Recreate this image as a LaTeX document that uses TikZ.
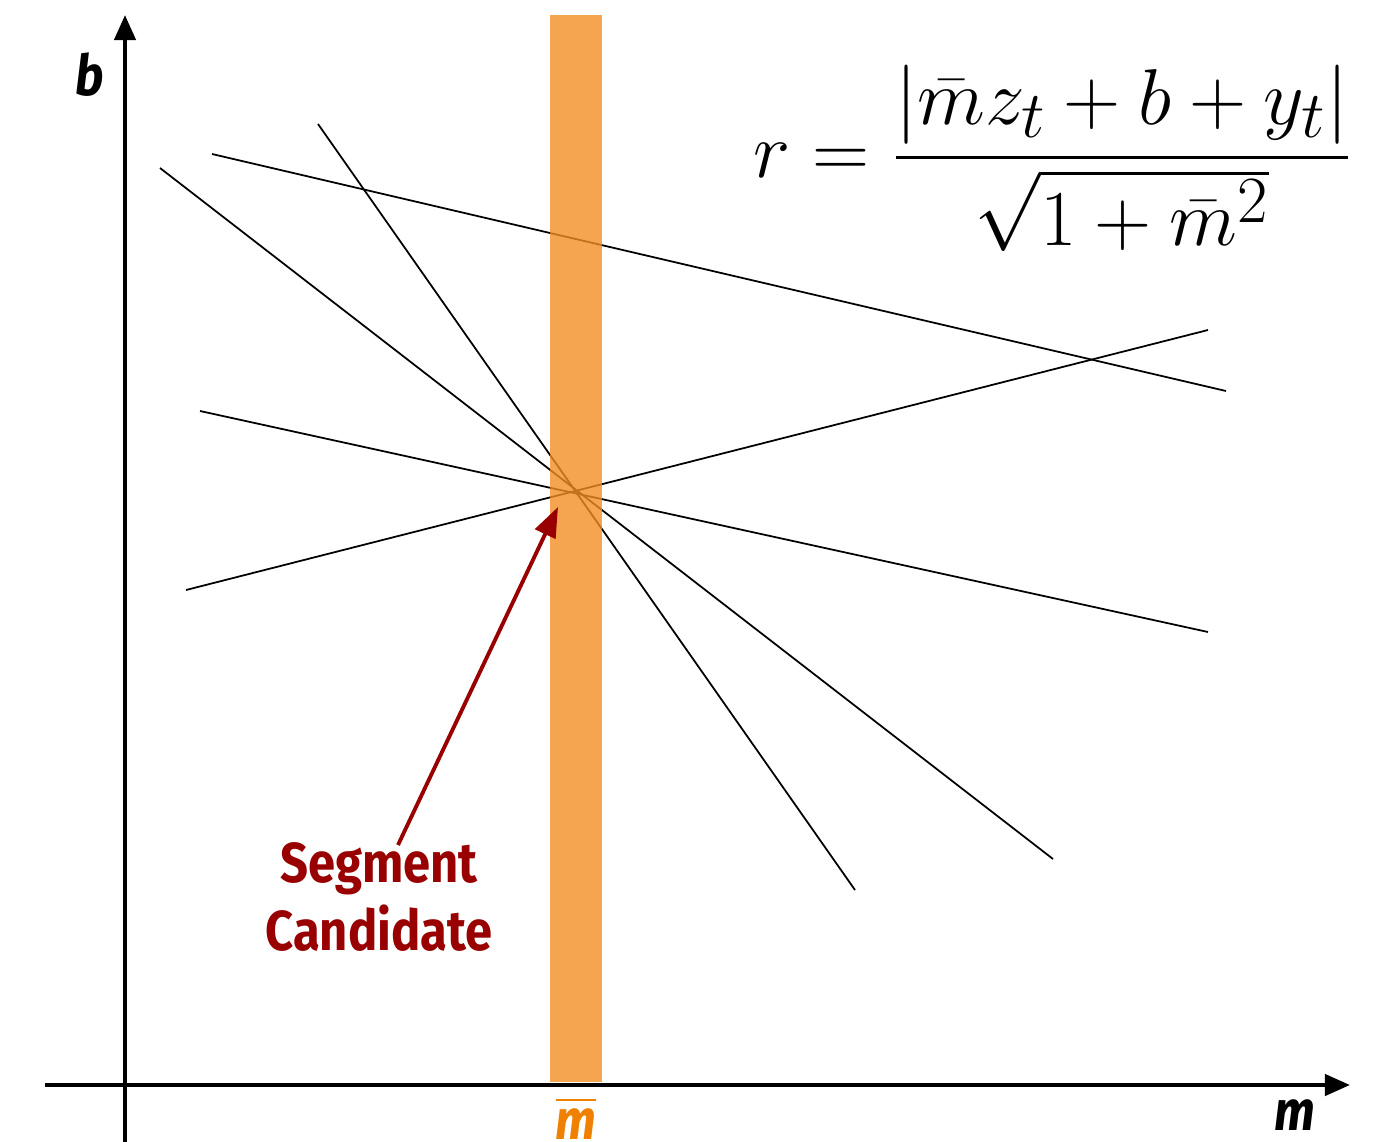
\documentclass[tikz,border=0pt]{standalone}
\usepackage{fontspec}
\usepackage{amsmath}
\newfontfamily\labelfont[FakeStretch=0.87]{Fira Sans}
\usetikzlibrary{arrows.meta, positioning}
\definecolor{bandorange}{RGB}{242,142,36}
\definecolor{markorange}{RGB}{240,128,0}
\definecolor{candred}{RGB}{153,0,0}

\begin{document}
\begin{tikzpicture}[
    x=0.01cm, y=-0.01cm,
    % axes and the family of lines in (m,b) space
    axis/.style={line width=1.2pt, -{Triangle[length=0.25cm, width=0.21cm]}},
    family/.style={line width=0.5pt, black},
    band/.style={fill=bandorange, fill opacity=0.8, draw=none},
    axlbl/.style={font=\labelfont\fontsize{16}{18}\selectfont\bfseries\itshape, inner sep=0pt},
    cand/.style={font=\labelfont\fontsize{16}{19.5}\selectfont\bfseries, text=candred, align=center, inner sep=0pt},
    pointer/.style={line width=1.1pt, candred, -{Triangle[length=0.3cm, width=0.22cm]}}
]
    \useasboundingbox (0,0) rectangle (1378,1142);

    % --- Axes ---
    \coordinate (xstart) at (45,1085);
    \coordinate (xend) at (1350,1085);
    \coordinate (ystart) at (125,1142);
    \coordinate (yend) at (125,15);
    \draw[axis] (xstart) -- (xend);
    \draw[axis] (ystart) -- (yend);
    \node[axlbl] (blbl) at (90,75) {b};
    \node[axlbl] (mlbl) at (1295,1115) {m};

    % --- Lines, most of them through one point ---
    \coordinate (cross) at (576,492);
    \foreach \ax/\ay/\bx/\by in {212/154/1226/391, 318/124/855/890, 160/168/1053/859,
                                 200/411/1208/632, 186/590/1208/330}
        \draw[family] (\ax,\ay) -- (\bx,\by);

    % --- Band at m-bar ---
    \path[band] (550,15) rectangle (602,1082);
    \node[font=\labelfont\fontsize{16}{18}\selectfont\bfseries\itshape, text=markorange, inner sep=0pt] (mbar) at (576,1118)
        {$\overline{\mbox{\labelfont\fontsize{16}{18}\selectfont\bfseries\itshape m}}$};

    % --- Candidate label and pointer ---
    \node[cand] (segcand) at (379,897) {Segment\\Candidate};
    \coordinate (tail) at (398,845);
    \coordinate (tip) at (558,507);
    \draw[pointer] (tail) -- (tip);

    % --- Residual formula ---
    \node[font=\fontsize{24.88}{30}\selectfont, inner sep=0pt] (resid) at (1053,158)
        {\scalebox{0.905}{$\displaystyle r = \frac{|\bar{m} z_t + b + y_t|}{\sqrt{1 + \bar{m}^2}}$}};
\end{tikzpicture}
\end{document}
